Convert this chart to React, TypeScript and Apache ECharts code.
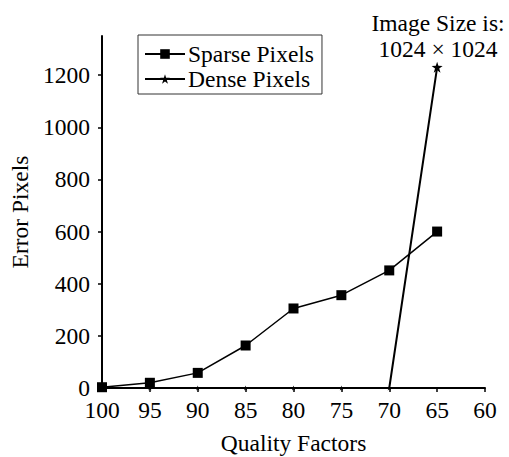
import React, { useEffect, useRef } from "react";
import * as echarts from "echarts";

const qualityFactors = [100, 95, 90, 85, 80, 75, 70, 65];
const sparsePixels = [3, 20, 58, 163, 305, 356, 451, 600];
const densePixels = [0, 0, 0, 0, 0, 0, 0, 1230];
const yTicks = [0, 200, 400, 600, 800, 1000, 1200];
const xTicks = [100, 95, 90, 85, 80, 75, 70, 65, 60];

const STAR =
  "path://M50,0 L61.8,36.2 L100,38.2 L69.1,61.8 L80.9,100 L50,76.4 L19.1,100 L30.9,61.8 L0,38.2 L38.2,36.2 Z";
const FONT = "Liberation Serif";
const FS = 23.5;

export default function App() {
  const ref = useRef<HTMLDivElement>(null);
  useEffect(() => {
    if (!ref.current) return;
    const chart = echarts.init(ref.current, null, { renderer: "svg" });
    const sparse = qualityFactors.map((q, i) => [q, sparsePixels[i]]);
    const dense = qualityFactors.map((q, i) => [q, densePixels[i]]);
    chart.setOption({
      animation: false,
      textStyle: { fontFamily: FONT, color: "#000" },
      grid: { left: 102, right: 24, top: 36, bottom: 69, outerBoundsMode: "none", containLabel: false },
      xAxis: {
        type: "value",
        inverse: true,
        min: 60,
        max: 100,
        interval: 5,
        name: "Quality Factors",
        nameLocation: "middle",
        nameGap: 43,
        nameTextStyle: { fontFamily: FONT, fontSize: FS, color: "#000" },
        axisLine: { show: true, lineStyle: { color: "#000", width: 2 } },
        axisTick: { show: true, length: 4, inside: false, lineStyle: { color: "#000", width: 1.5 } },
        axisLabel: {
          fontFamily: FONT,
          fontSize: FS,
          color: "#000",
          margin: 10,
          customValues: xTicks,
          formatter: (v: number) => String(v),
        },
        splitLine: { show: false },
      },
      yAxis: {
        type: "value",
        min: 0,
        max: 1350,
        name: "Error Pixels",
        nameLocation: "middle",
        nameGap: 68,
        nameRotate: 90,
        nameTextStyle: { fontFamily: FONT, fontSize: FS, color: "#000" },
        axisLine: { show: true, lineStyle: { color: "#000", width: 2 } },
        axisTick: {
          show: true,
          length: 4,
          lineStyle: { color: "#000", width: 1.5 },
          customValues: yTicks,
        },
        axisLabel: {
          fontFamily: FONT,
          fontSize: FS,
          color: "#000",
          margin: 12,
          customValues: yTicks,
          formatter: (v: number) => String(v),
        },
        splitLine: { show: false },
      },
      legend: {
        orient: "vertical",
        left: 138,
        top: 35,
        padding: [7, 8, 3, 6],
        itemGap: 1,
        itemWidth: 40,
        itemHeight: 12,
        borderColor: "#333",
        borderWidth: 1,
        textStyle: { fontFamily: FONT, fontSize: FS, color: "#000", padding: [0, 0, 0, -2] },
        data: [{ name: "Sparse Pixels" }, { name: "Dense Pixels" }],
      },
      series: [
        {
          name: "Sparse Pixels",
          type: "line",
          data: sparse,
          symbol: "rect",
          symbolSize: 10,
          lineStyle: { color: "#000", width: 1.5 },
          itemStyle: { color: "#000" },
          clip: false,
        },
        {
          name: "Dense Pixels",
          type: "line",
          data: dense,
          symbol: STAR,
          symbolSize: (v: number[]) => (v[1] > 0 ? 11 : 5),
          lineStyle: { color: "#000", width: 2 },
          itemStyle: { color: "#000" },
          clip: false,
        },
      ],
      graphic: [
        {
          type: "text",
          x: 438,
          y: 11,
          style: {
            text: "Image Size is:",
            fontFamily: FONT,
            fontSize: FS,
            fill: "#000",
            textAlign: "center",
          },
        },
        {
          type: "text",
          x: 438,
          y: 37,
          style: {
            text: "1024 × 1024",
            fontFamily: FONT,
            fontSize: FS,
            fill: "#000",
            textAlign: "center",
          },
        },
      ],
    });
    return () => chart.dispose();
  }, []);
  return (
    <div
      ref={ref}
      style={{ position: "absolute", left: 0, top: 0, width: 509, height: 457, overflow: "hidden" }}
    />
  );
}
